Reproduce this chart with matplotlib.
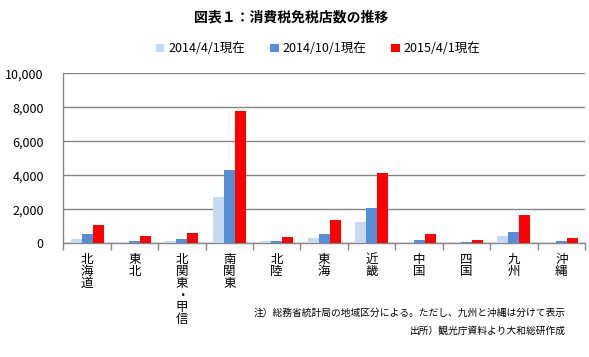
import numpy as np
import matplotlib.pyplot as plt
from matplotlib.ticker import FuncFormatter, MultipleLocator

plt.rcParams['font.family'] = ['Noto Sans CJK JP', 'DejaVu Sans']

regions = ['北海道', '東北', '北関東・甲信', '南関東', '北陸', '東海',
           '近畿', '中国', '四国', '九州', '沖縄']
series_names = ['2014/4/1現在', '2014/10/1現在', '2015/4/1現在']
apr2014 = [255, 80, 135, 2720, 135, 315, 1250, 80, 30, 430, 80]
oct2014 = [550, 135, 255, 4310, 135, 550, 2080, 195, 80, 665, 135]
apr2015 = [1080, 430, 610, 7780, 370, 1370, 4135, 550, 195, 1665, 315]
colors = ['#C6D9F1', '#558ED5', '#FF0000']

fig = plt.figure(figsize=(5.89, 3.57), dpi=100)
ax = fig.add_axes([0.1075, 0.3185, 0.8857, 0.4762])

x = np.arange(len(regions))
w = 0.232
for i, (vals, name) in enumerate(zip([apr2014, oct2014, apr2015], series_names)):
    ax.bar(x + (i - 1) * w, vals, width=w, color=colors[i], label=name, zorder=3)

ax.set_xlim(-0.5, len(regions) - 0.5)
ax.set_ylim(0, 10000)
ax.yaxis.set_major_locator(MultipleLocator(2000))
ax.yaxis.set_major_formatter(FuncFormatter(lambda v, p: f'{int(v):,}'))
ax.grid(axis='y', color='#868686', linewidth=1.0, zorder=0)
ax.tick_params(axis='y', length=0, labelsize=9, pad=14)

ax.set_xticks(x)
ax.set_xticklabels(['\n'.join(r) for r in regions], fontsize=9,
                   va='top', linespacing=0.9)
ax.tick_params(axis='x', length=0, pad=7)
ax.set_xticks(np.arange(-0.5, len(regions)), minor=True)
ax.tick_params(axis='x', which='minor', length=5, color='#868686', width=1)

for s in ['top', 'right']:
    ax.spines[s].set_visible(False)
for s in ['left', 'bottom']:
    ax.spines[s].set_color('#868686')
    ax.spines[s].set_linewidth(1.0)

fig.text(0.495, 0.952, '図表１：消費税免税店数の推移', ha='center', va='center',
         fontsize=10, fontweight='bold')
fig.legend(loc='center', bbox_to_anchor=(0.54, 0.863), ncol=3, frameon=False,
           fontsize=9, handlelength=0.7, handleheight=0.7, handletextpad=0.3,
           columnspacing=2.0)

fig.text(0.96, 0.124, '注）総務省統計局の地域区分による。ただし、九州と沖縄は分けて表示',
         ha='right', va='center', fontsize=7)
fig.text(0.96, 0.074, '出所）観光庁資料より大和総研作成',
         ha='right', va='center', fontsize=7)

fig.savefig('out.png', dpi=100)
